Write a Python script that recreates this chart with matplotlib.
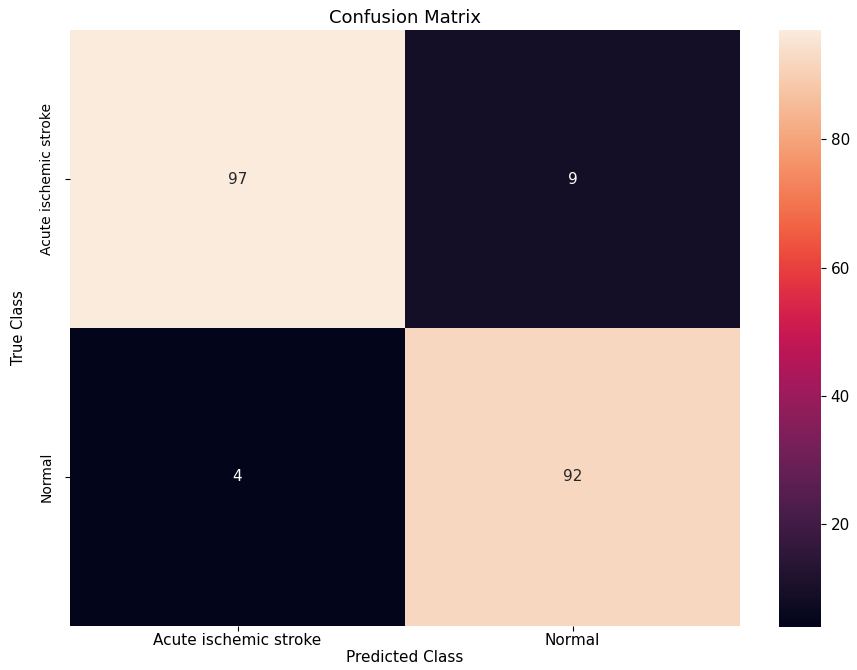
import numpy as np
import matplotlib
matplotlib.use("Agg")
import matplotlib.pyplot as plt
import seaborn as sns

classes = ["Acute ischemic stroke", "Normal"]
cm = np.array([[97, 9],
               [4, 92]])

fig = plt.figure(figsize=(8.57, 6.70), dpi=100)
ax = fig.add_axes([0.0817, 0.066, 0.782, 0.889])
cax = fig.add_axes([0.909, 0.064, 0.049, 0.891])

sns.heatmap(cm, annot=True, fmt="d", cmap="rocket", ax=ax, cbar_ax=cax,
            xticklabels=classes, yticklabels=classes,
            annot_kws={"fontsize": 11})

ax.set_title("Confusion Matrix", fontsize=13, pad=5)
ax.set_xlabel("Predicted Class", fontsize=11, labelpad=1)
ax.set_ylabel("True Class", fontsize=10.5, labelpad=10)
ax.tick_params(axis="x", labelsize=11, pad=2)
ax.tick_params(axis="y", labelsize=10, pad=8)
plt.setp(ax.get_yticklabels(), rotation=90, va="center")
cax.tick_params(labelsize=11)
cax.set_yticks([20, 40, 60, 80])

fig.savefig("out.png", dpi=100)
